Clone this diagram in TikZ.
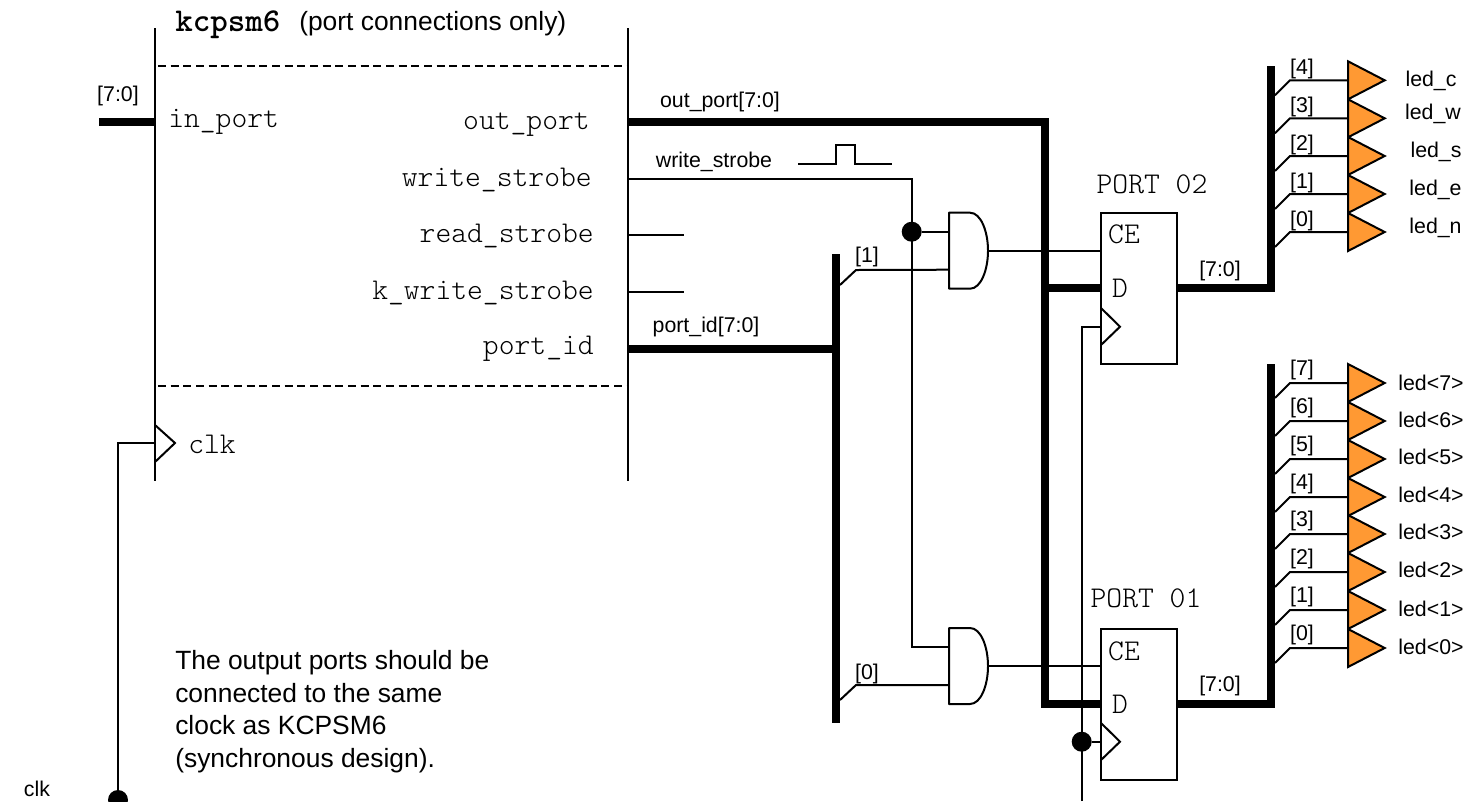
\documentclass[tikz,border=0pt]{standalone}
\usepackage{fontspec}
\setmainfont{Liberation Sans}
\setmonofont{Latin Modern Mono Light}
\usetikzlibrary{calc,shapes.geometric}
\definecolor{ledfill}{HTML}{FF9933}
\newcommand{\tag}[1]{\fontsize{16}{18}\selectfont #1}
\newcommand{\mono}[1]{\fontsize{22.6}{25}\ttfamily #1}
\newcommand{\note}[1]{\fontsize{19.8}{22}\selectfont #1}
\newcommand{\andgate}[2]{
    \begin{scope}[shift={(#2)}]
        \draw[wire,line join=round] (0,-38) -- (21,-38) .. controls (32,-38) and (39,-19) .. (39,0) .. controls (39,19) and (32,38) .. (21,38) -- (0,38) -- cycle;
        \coordinate (#1in1) at (0,-19);
        \coordinate (#1in2) at (0,19);
        \coordinate (#1out) at (39,0);
    \end{scope}
}
\begin{document}
\begin{tikzpicture}[x=0.75pt,y=-0.75pt]
    \tikzstyle{wire}=[line width=1.5pt]
    \tikzstyle{bus}=[line width=6pt]
    \tikzstyle{dot}=[circle,fill=black,inner sep=0pt,minimum size=15pt]
    \tikzstyle{flop}=[draw,line width=1.5pt,inner sep=0pt,minimum width=57pt,minimum height=113.5pt]
    \tikzstyle{buffer}=[isosceles triangle,isosceles triangle stretches,draw,fill=ledfill,line width=1.5pt,inner sep=0pt,minimum width=28.5pt,minimum height=27.5pt,anchor=west]
    \useasboundingbox (0,0) rectangle (1470,801);

    \coordinate (lefttop) at (155,28);
    \coordinate (leftend) at (155,481);
    \coordinate (righttop) at (628,28);
    \coordinate (rightend) at (628,481);
    \draw[wire] (lefttop) -- (leftend);
    \draw[wire] (righttop) -- (rightend);
    \coordinate (dash1) at (158,66);
    \coordinate (dash2) at (158,386);
    \draw[line width=1pt,dash pattern=on 6pt off 3.5pt] (dash1) -- (dash1 -| righttop);
    \draw[line width=1pt,dash pattern=on 6pt off 3.5pt] (dash2) -- (dash2 -| righttop);

    \node[anchor=west,inner sep=0pt] (title) at (175,25) {\mono{\fontsize{25}{27}\selectfont\bfseries kcpsm6}};
    \node[anchor=west,inner sep=0pt] (titlenote) at (299,24) {\note{(port connections only)}};

    \node[anchor=west,inner sep=0pt] (inport) at (168,122) {\mono{in\_port}};
    \node[anchor=east,inner sep=0pt] (outport) at (590,125) {\mono{out\_port}};
    \node[anchor=east,inner sep=0pt] (wstrobe) at (592,180) {\mono{write\_strobe}};
    \node[anchor=east,inner sep=0pt] (rstrobe) at (594,236) {\mono{read\_strobe}};
    \node[anchor=east,inner sep=0pt] (kstrobe) at (594,293) {\mono{k\_write\_strobe}};
    \node[anchor=east,inner sep=0pt] (portid) at (594,349) {\mono{port\_id}};
    \node[anchor=west,inner sep=0pt] (clkpin) at (188,444) {\mono{clk}};

    \coordinate (instart) at (99,122);
    \coordinate (outcorner) at (1045,122);
    \draw[bus] (instart) -- (instart -| lefttop);
    \node (inrange) at (118,96) {\tag{[7:0]}};
    \node (outlabel) at (720,102) {\tag{out\_port[7:0]}};
    \node (wlabel) at (714,162) {\tag{write\_strobe}};
    \node (idlabel) at (706,327) {\tag{port\_id[7:0]}};

    \coordinate (pulse) at (798,164);
    \draw[wire] (pulse) -- (835.7,164) -- (835.7,145) -- (855,145) -- (855,164) -- (892,164);

    \andgate{andtwo}{949,250.7}
    \andgate{andone}{949,666}
    \node[flop] (ff2) at (1139,288.5) {};
    \node[flop] (ff1) at (1139,704.5) {};
    \node[inner sep=0pt] (ff2name) at (1152,184) {\mono{PORT 02}};
    \node[inner sep=0pt] (ff1name) at (1146,598) {\mono{PORT 01}};
    \node[inner sep=0pt] (ff2ce) at (1124,234) {\mono{CE}};
    \node[inner sep=0pt] (ff2d) at (1120,288) {\mono{D}};
    \node[inner sep=0pt] (ff1ce) at (1124,651) {\mono{CE}};
    \node[inner sep=0pt] (ff1d) at (1120,704) {\mono{D}};

    \coordinate (wturn) at (911.7,178.7);
    \node[dot] (wdot) at (wturn |- andtwoin1) {};
    \draw[wire] (wturn -| righttop) -- (wturn) -- (wturn |- andonein1) -- (andonein1);
    \draw[wire] (wdot) -- (andtwoin1);
    \coordinate (rstub) at (684,235);
    \coordinate (kstub) at (684,292);
    \draw[wire] (rstub -| righttop) -- (rstub);
    \draw[wire] (kstub -| righttop) -- (kstub);

    \coordinate (idtop) at (836,254);
    \coordinate (idend) at (836,723);
    \coordinate (idstart) at (628,348.7);
    \draw[bus] (idstart) -- (idstart -| idtop);
    \draw[bus] (idtop) -- (idend);
    \coordinate (tapone) at (856,270);
    \coordinate (tapzero) at (856,685);
    \draw[wire] ($(tapone)+(-16,15)$) -- (tapone) -- (andtwoin2);
    \draw[wire] ($(tapzero)+(-16,15)$) -- (tapzero) -- (andonein2);
    \node (tagone) at (867,257) {\tag{[1]}};
    \node (tagzero) at (867,674) {\tag{[0]}};

    \draw[wire] (andtwoout) -- (ff2.west |- andtwoout);
    \draw[wire] (andoneout) -- (ff1.west |- andoneout);
    \coordinate (dtwo) at (1045,288);
    \coordinate (done) at (1045,704);
    \draw[bus] (outcorner -| righttop) -- (outcorner) -- (done) -- (ff1.west |- done);
    \draw[bus] (dtwo) -- (ff2.west |- dtwo);

    \coordinate (clktwo) at (1101,326.7);
    \coordinate (clkone) at (1101,741.7);
    \draw[wire] (1101,308) -- (1120,326.7) -- (1101,345);
    \draw[wire] (1101,723) -- (1120,741.7) -- (1101,760);
    \coordinate (clkstart) at (1081.7,801);
    \node[dot] (clkdot) at (clkstart |- clkone) {};
    \draw[wire] (clkstart) -- (clkstart |- clktwo) -- (clktwo);
    \draw[wire] (clkdot) -- (clkone);

    \coordinate (bustwotop) at (1271,65.7);
    \coordinate (busonetop) at (1271,364);
    \draw[bus] (ff2.east |- dtwo) -- (bustwotop |- dtwo) -- (bustwotop);
    \draw[bus] (ff1.east |- done) -- (busonetop |- done) -- (busonetop);
    \node (rangetwo) at (1220,271) {\tag{[7:0]}};
    \node (rangeone) at (1220,686) {\tag{[7:0]}};

    \foreach \n/\y/\ty/\lx/\t in {4/80.3/81/1431/led\_c, 3/118.3/114/1433/led\_w, 2/156/152/1436/led\_s, 1/194/190/1435.5/led\_e, 0/232/228/1435.5/led\_n}
    {
        \coordinate (tapt\n) at (1290,\y);
        \node[buffer] (buft\n) at (1347,\y) {};
        \draw[wire] ($(tapt\n)+(-15,15)$) -- (tapt\n) -- (buft\n.west);
        \node (tagt\n) at (1302,\y-11) {\tag{[\n]}};
        \node (namet\n) at (\lx,\ty) {\tag{\t}};
    }
    \foreach \n/\y/\ty in {7/383/383, 6/421/420, 5/459/457, 4/497/495, 3/534/532, 2/572/570, 1/610/609, 0/648/647}
    {
        \coordinate (tapb\n) at (1290,\y);
        \node[buffer] (bufb\n) at (1347,\y) {};
        \draw[wire] ($(tapb\n)+(-15,15)$) -- (tapb\n) -- (bufb\n.west);
        \node (tagb\n) at (1302,\y-13) {\tag{[\n]}};
        \node (nameb\n) at (1431,\ty) {\tag{led<\n>}};
    }

    \coordinate (clkturn) at (118,443);
    \coordinate (clkpinin) at (155,443);
    \node[dot] (clkin) at (118,800) {};
    \draw[wire] (clkin) -- (clkturn) -- (clkpinin);
    \draw[wire] (155,425) -- (175,443) -- (155,462);
    \node (clkname) at (37,789) {\tag{clk}};

    \node[anchor=base west,inner sep=0pt] (note1) at (175,669.5) {\note{The output ports should be}};
    \node[anchor=base west,inner sep=0pt] (note2) at (175,702) {\note{connected to the same}};
    \node[anchor=base west,inner sep=0pt] (note3) at (175,734.5) {\note{clock as KCPSM6}};
    \node[anchor=base west,inner sep=0pt] (note4) at (175,767) {\note{(synchronous design).}};
\end{tikzpicture}
\end{document}
